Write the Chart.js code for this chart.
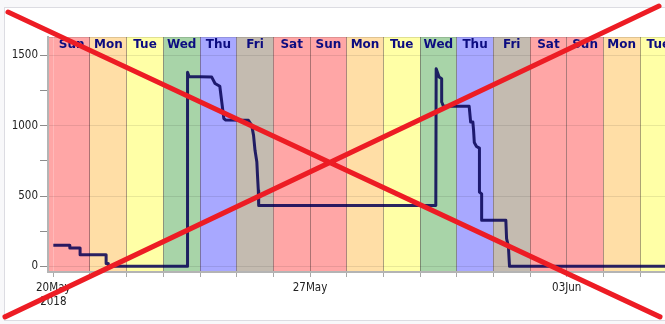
<!DOCTYPE html>
<html>
<head>
<meta charset="utf-8">
<script src="https://cdn.jsdelivr.net/npm/chart.js@4/dist/chart.umd.min.js"></script>
<style>
  html, body { margin: 0; padding: 0; width: 665px; height: 324px; overflow: hidden; background: #f8f8fa; }
  #frame { position: absolute; left: 4px; top: 7px; width: 720px; height: 312px; border: 1px solid #dcdce2; background: #fff; }
  #wrap { position: absolute; left: 0; top: 0; width: 665px; height: 324px; }
</style>
</head>
<body>
<div id="frame"></div>
<div id="wrap"><canvas id="c" width="665" height="324"></canvas></div>
<script>
// ---- data (x = days since Sun 20 May 2018 00:00) ----
const dayNames = ['Sun', 'Mon', 'Tue', 'Wed', 'Thu', 'Fri', 'Sat'];
const times = [0, 0.45, 0.45, 0.73, 0.73, 1.44, 1.44, 1.50, 1.50, 3.66, 3.66, 3.70, 4.32, 4.41, 4.54, 4.65, 4.70, 5.32, 5.41, 5.46, 5.50, 5.55, 5.57, 5.59, 5.60,
               10.43, 10.44, 10.52, 10.59, 10.59, 10.64, 11.34, 11.38, 11.44, 11.46, 11.48, 11.54, 11.62, 11.62, 11.68, 11.68, 12.34, 12.36, 12.41, 12.44, 16.68];
const values = [150, 150, 130, 130, 83, 83, 20, 20, 0, 0, 1380, 1350, 1345, 1300, 1280, 1050, 1040, 1038, 1002, 931, 825, 741, 635, 540, 432,
                432, 1405, 1346, 1334, 1168, 1137, 1137, 1026, 1026, 967, 880, 852, 840, 528, 515, 327, 327, 197, 140, 0, 0];
const xTickValues = [0, 7, 14];
const xTickLabels = [['20May', '2018'], '27May', '03Jun'];
const yTickValues = [0, 250, 500, 750, 1000, 1250, 1500];
const yTickLabels = ['0', '', '500', '', '1000', '', '1500'];

// ---- styles ----
const bandColors = { Sun: '#ffa6a6', Sat: '#ffa6a6', Mon: '#ffdea6', Tue: '#ffffa6', Wed: '#a8d4a8', Thu: '#a8a8ff', Fri: '#c4bbb0' };

function hasFont(name) {
  const c = document.createElement('canvas').getContext('2d');
  c.font = '20px monospace';
  const a = c.measureText('27May 1500 Wed').width;
  c.font = "20px '" + name + "', monospace";
  const b = c.measureText('27May 1500 Wed').width;
  return Math.abs(a - b) > 0.5;
}
let tickFont;
if (hasFont('Liberation Sans Narrow')) tickFont = { family: "'Liberation Sans Narrow'", size: 13 };
else if (hasFont('DejaVu Sans Condensed')) tickFont = { family: "'DejaVu Sans Condensed'", size: 11.5 };
else tickFont = { family: "'Liberation Sans', Arial", size: 12 };

const points = times.map((t, i) => ({ x: t, y: values[i] }));

const bandsPlugin = {
  id: 'bands',
  beforeDatasetsDraw(chart) {
    const { ctx, chartArea: a, scales: { x } } = chart;
    ctx.save();
    ctx.beginPath(); ctx.rect(a.left, a.top, a.right - a.left, a.bottom - a.top); ctx.clip();
    ctx.font = "bold 12px 'DejaVu Sans', Verdana, sans-serif";
    ctx.fillStyle = '#0c0c80';
    ctx.textAlign = 'center'; ctx.textBaseline = 'middle';
    for (let d = Math.floor(x.min); d < Math.ceil(x.max); d++) {
      const name = dayNames[((d % 7) + 7) % 7];
      const x0 = x.getPixelForValue(d), x1 = x.getPixelForValue(d + 1);
      if (x0 < a.left - 10) continue;
      ctx.fillText(name, (x0 + x1) / 2, a.top + 8);
    }
    ctx.restore();
  },
  beforeDraw(chart) {
    const { ctx, chartArea: a, scales: { x } } = chart;
    ctx.save();
    ctx.beginPath(); ctx.rect(a.left, a.top, a.right - a.left, a.bottom - a.top); ctx.clip();
    for (let d = Math.floor(x.min); d < Math.ceil(x.max); d++) {
      const name = dayNames[((d % 7) + 7) % 7];
      const x0 = x.getPixelForValue(d), x1 = x.getPixelForValue(d + 1);
      ctx.fillStyle = bandColors[name];
      ctx.fillRect(x0, a.top, x1 - x0, a.bottom - a.top);
    }
    ctx.strokeStyle = 'rgba(0,0,0,0.12)';
    ctx.lineWidth = 1;
    ctx.beginPath(); ctx.moveTo(a.left, a.top + 0.5); ctx.lineTo(a.right, a.top + 0.5); ctx.stroke();
    ctx.restore();
  }
};

const crossPlugin = {
  id: 'cross',
  afterDraw(chart) {
    const ctx = chart.ctx, w = chart.width, h = chart.height;
    ctx.save();
    ctx.strokeStyle = 'rgb(237,28,36)';
    ctx.lineWidth = 5;
    ctx.lineCap = 'round';
    ctx.beginPath();
    ctx.moveTo(w * 0.012, h * 0.037); ctx.lineTo(w * 0.9925, h * 0.978);
    ctx.moveTo(w * 0.0075, h * 0.978); ctx.lineTo(w * 0.991, h * 0.0185);
    ctx.stroke();
    ctx.restore();
  }
};

new Chart(document.getElementById('c'), {
  type: 'line',
  data: {
    datasets: [{
      data: points,
      borderColor: 'rgba(5,0,85,0.85)',
      borderWidth: 3,
      pointRadius: 0,
      tension: 0,
      fill: false,
      borderJoinStyle: 'round'
    }]
  },
  options: {
    responsive: false,
    animation: false,
    events: [],
    layout: { padding: { top: 37, right: 0, left: 0, bottom: 0 } },
    plugins: { legend: { display: false }, tooltip: { enabled: false } },
    scales: {
      x: {
        type: 'linear',
        min: -0.145,
        max: 16.68,
        afterFit(s) { s.height = 52; s.paddingLeft = 0; s.paddingRight = 0; },
        afterBuildTicks(s) {
          const t = [];
          for (let d = Math.ceil(s.min); d <= Math.floor(s.max); d++) t.push({ value: d });
          s.ticks = t;
        },
        ticks: {
          autoSkip: false,
          maxRotation: 0,
          padding: 4,
          color: '#222',
          font: tickFont,
          callback(v) { const i = xTickValues.indexOf(v); return i >= 0 ? xTickLabels[i] : ''; }
        },
        grid: {
          color(ctx) { return ctx.tick && ctx.tick.value === 0 ? 'rgba(0,0,0,0)' : 'rgba(70,50,50,0.45)'; },
          lineWidth: 1,
          tickColor: '#a8a8a8',
          tickLength: 5
        },
        border: { color: '#b4b4b4', width: 2 }
      },
      y: {
        min: -40,
        max: 1630,
        afterFit(s) { s.width = 48; },
        afterBuildTicks(s) { s.ticks = yTickValues.map(v => ({ value: v })); },
        ticks: {
          autoSkip: false,
          padding: 2,
          color: '#222',
          font: tickFont,
          callback(v) { const i = yTickValues.indexOf(v); return i >= 0 ? yTickLabels[i] : ''; }
        },
        grid: {
          color(ctx) { return ctx.tick && ctx.tick.value % 500 === 0 ? 'rgba(0,0,0,0.09)' : 'rgba(0,0,0,0)'; },
          tickColor: '#8c8c8c',
          tickLength: 8
        },
        border: { color: '#b4b4b4', width: 2 }
      }
    }
  },
  plugins: [bandsPlugin, crossPlugin]
});
</script>
</body>
</html>
